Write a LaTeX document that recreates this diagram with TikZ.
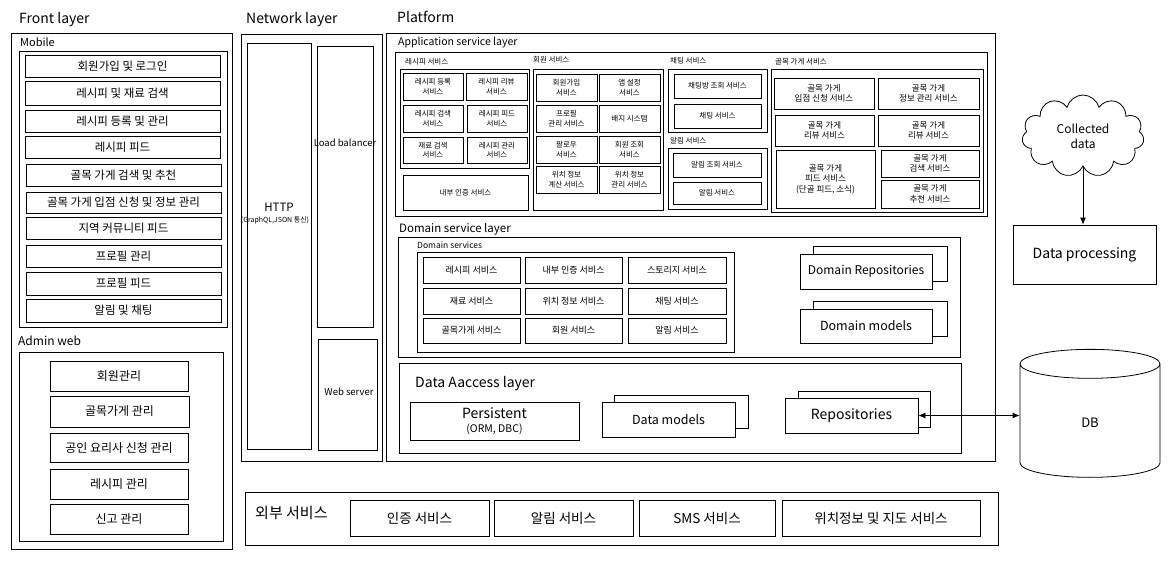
\documentclass[tikz,border=0pt]{standalone}
\usepackage{fontspec}
\setmainfont{Noto Sans CJK KR}
\usetikzlibrary{shapes.geometric,shapes.symbols,arrows.meta}

\tikzset{
    span/.style n args={4}{minimum width={#3-#1}, minimum height={#4-#2}, at={({(#1+#3)/2},{(#2+#4)/2})}},
    layer frame/.style={draw=black, line width=0.8pt},
    layer title/.style={anchor=base west, inner sep=0pt, font=\fontsize{14}{16}\selectfont},
    group title/.style={anchor=base west, inner sep=0pt, font=\fontsize{11}{13}\selectfont},
    tiny title/.style={anchor=base west, inner sep=0pt, font=\fontsize{7.5}{9}\selectfont},
    item/.style={draw=black, line width=0.8pt, inner sep=0pt, align=center, font=\fontsize{11.5}{14}\selectfont},
    small item/.style={item, font=\fontsize{7.5}{9.5}\selectfont},
    shop item/.style={item, font=\fontsize{8.5}{10.5}\selectfont},
    domain item/.style={item, font=\fontsize{9}{11}\selectfont},
    ext item/.style={item, font=\fontsize{13.5}{16}\selectfont},
    admin item/.style={item, font=\fontsize{12}{14}\selectfont},
    stack back/.style={draw=black, line width=0.8pt, fill=white},
    stack front/.style={item, fill=white, font=\fontsize{12.5}{15}\selectfont},
    plain text/.style={inner sep=0pt, align=center},
    flow/.style={-{Latex[length=7pt,width=6pt]}, line width=0.8pt},
}

\begin{document}
\begin{tikzpicture}[x=1pt, y=-1pt]
    \useasboundingbox (0,0) rectangle (1172,567);

    \begin{scope}
        \node[layer title] (front title) at (19,24) {Front layer};
        \draw[layer frame] (11,33) rectangle (232,549);
        \node[group title] (mobile title) at (20,47) {Mobile};
        \draw[layer frame] (19,51) rectangle (227,327);
        \node[item, span={25}{55}{220}{77}] (m1) {회원가입 및 로그인};
        \node[item, span={25}{81}{220}{105}] (m2) {레시피 및 재료 검색};
        \node[item, span={25}{110}{220}{132}] (m3) {레시피 등록 및 관리};
        \node[item, span={25}{136}{220}{158}] (m4) {레시피 피드};
        \node[item, span={26}{164}{221}{186}] (m5) {골목 가게 검색 및 추천};
        \node[item, span={26}{192}{221}{213}] (m6) {골목 가게 입점 신청 및 정보 관리};
        \node[item, span={26}{217}{221}{239}] (m7) {지역 커뮤니티 피드};
        \node[item, span={26}{245}{221}{267}] (m8) {프로필 관리};
        \node[item, span={26}{272}{221}{295}] (m9) {프로필 피드};
        \node[item, span={26}{299}{221}{322}] (m10) {알림 및 채팅};
        \node[group title, font=\fontsize{12}{14}\selectfont] (admin title) at (18,345) {Admin web};
        \draw[layer frame] (19,352) rectangle (223,541);
        \node[admin item, span={50}{361}{188}{391}] (a1) {회원관리};
        \node[admin item, span={50}{396}{189}{427}] (a2) {골목가게 관리};
        \node[admin item, span={50}{433}{188}{462}] (a3) {공인 요리사 신청 관리};
        \node[admin item, span={50}{469}{188}{499}] (a4) {레시피 관리};
        \node[admin item, span={50}{504}{188}{534}] (a5) {신고 관리};
    \end{scope}

    \begin{scope}
        \node[layer title] (network title) at (246,24) {Network layer};
        \draw[layer frame] (241,34) rectangle (382,461);
        \node[item, span={247}{43}{311}{449}] (http) {};
        \node[plain text, font=\fontsize{11.5}{13}\selectfont] (http text) at (279,207) {HTTP};
        \node[plain text, font=\fontsize{7}{8}\selectfont] (http note) at (275,220) {(GraphQL,JSON 통신)};
        \node[item, span={317}{46}{373}{327}] (lb) {};
        \node[plain text, font=\fontsize{9.5}{11}\selectfont] (lb text) at (345,143) {Load balancer};
        \node[item, span={318}{339}{377}{450}] (ws) {};
        \node[plain text, font=\fontsize{9.5}{11}\selectfont] (ws text) at (349,392) {Web server};
    \end{scope}

    \begin{scope}
        \node[layer title] (platform title) at (397,23) {Platform};
        \draw[layer frame] (386,33) rectangle (995,461);

        \node[group title, font=\fontsize{10.5}{12}\selectfont] (app title) at (398,46) {Application service layer};
        \draw[layer frame] (395,52) rectangle (987,216);

        \node[tiny title] (recipe title) at (405,65) {레시피 서비스};
        \draw[layer frame] (400,69) rectangle (529,168);
        \node[small item, span={403}{73}{463}{100}] (r1) {레시피 등록\\서비스};
        \node[small item, span={466}{73}{527}{100}] (r2) {레시피 리뷰\\서비스};
        \node[small item, span={403}{105}{463}{132}] (r3) {레시피 검색\\서비스};
        \node[small item, span={467}{105}{527}{132}] (r4) {레시피 피드\\서비스};
        \node[small item, span={403}{137}{463}{163}] (r5) {재료 검색\\서비스};
        \node[small item, span={467}{137}{527}{163}] (r6) {레시피 관리\\서비스};
        \node[small item, span={403}{175}{528}{210}] (auth) {내부 인증 서비스};

        \node[tiny title] (user title) at (533,63) {회원 서비스};
        \draw[layer frame] (533,69) rectangle (663,210);
        \node[small item, span={536}{74}{597}{101}] (u1) {회원가입\\서비스};
        \node[small item, span={599}{74}{660}{101}] (u2) {앱 설정\\서비스};
        \node[small item, span={536}{105}{597}{132}] (u3) {프로필\\관리 서비스};
        \node[small item, span={599}{105}{660}{132}] (u4) {배지 시스템};
        \node[small item, span={536}{136}{597}{163}] (u5) {팔로우\\서비스};
        \node[small item, span={599}{136}{660}{163}] (u6) {회원 조회\\서비스};
        \node[small item, span={536}{166}{597}{193}] (u7) {위치 정보\\계산 서비스};
        \node[small item, span={599}{166}{660}{193}] (u8) {위치 정보\\관리 서비스};

        \node[tiny title] (chat title) at (670,64) {채팅 서비스};
        \draw[layer frame] (668,69) rectangle (767,132);
        \node[small item, span={674}{74}{761}{98}] (c1) {채팅방 조회 서비스};
        \node[small item, span={674}{104}{761}{128}] (c2) {채팅 서비스};
        \node[tiny title] (alarm title) at (670,143) {알림 서비스};
        \draw[layer frame] (668,148) rectangle (767,209);
        \node[small item, span={673}{153}{761}{177}] (n1) {알림 조회 서비스};
        \node[small item, span={673}{182}{761}{204}] (n2) {알림 서비스};

        \node[tiny title] (shop title) at (775,65) {골목 가게 서비스};
        \draw[layer frame] (771,69) rectangle (983,212);
        \node[shop item, span={774}{78}{874}{109}] (g1) {골목 가게\\입점 신청 서비스};
        \node[shop item, span={878}{78}{979}{109}] (g2) {골목 가게\\정보 관리 서비스};
        \node[shop item, span={775}{115}{874}{146}] (g3) {골목 가게\\리뷰 서비스};
        \node[shop item, span={878}{115}{979}{146}] (g4) {골목 가게\\리뷰 서비스};
        \node[shop item, span={776}{150}{875}{208}] (g5) {골목 가게\\피드 서비스\\(단골 피드, 소식)};
        \node[shop item, span={881}{150}{979}{177}] (g6) {골목 가게\\검색 서비스};
        \node[shop item, span={881}{180}{979}{208}] (g7) {골목 가게\\추천 서비스};

        \node[group title, font=\fontsize{11.5}{13}\selectfont] (domain title) at (399,232) {Domain service layer};
        \draw[layer frame] (398,237) rectangle (960,357);
        \node[tiny title, font=\fontsize{8.5}{10}\selectfont] (dsvc title) at (417,248) {Domain services};
        \draw[layer frame] (417,252) rectangle (734,352);
        \node[domain item, span={423}{257}{520}{283}] (d1) {레시피 서비스};
        \node[domain item, span={525}{257}{622}{283}] (d2) {내부 인증 서비스};
        \node[domain item, span={628}{257}{726}{283}] (d3) {스토리지 서비스};
        \node[domain item, span={423}{288}{520}{314}] (d4) {재료 서비스};
        \node[domain item, span={525}{288}{622}{314}] (d5) {위치 정보 서비스};
        \node[domain item, span={628}{288}{726}{314}] (d6) {채팅 서비스};
        \node[domain item, span={423}{318}{520}{343}] (d7) {골목가게 서비스};
        \node[domain item, span={525}{318}{622}{343}] (d8) {회원 서비스};
        \node[domain item, span={628}{318}{726}{343}] (d9) {알림 서비스};
        \draw[stack back] (813,246) rectangle (947,281);
        \node[stack front, font=\fontsize{12}{14}\selectfont, span={800}{254}{932}{289}] (drepo) {Domain Repositories};
        \draw[stack back] (813,301) rectangle (947,336);
        \node[stack front, span={800}{309}{932}{343}] (dmodel) {Domain models};

        \draw[layer frame] (399,363) rectangle (961,453);
        \node[layer title] (data title) at (415,387) {Data Aaccess layer};
        \node[item, font=\fontsize{14}{16}\selectfont, span={410}{402}{579}{440}] (persist) {Persistent\\[-2pt]{\fontsize{10.5}{12}\selectfont (ORM, DBC)}};
        \draw[stack back] (614,395) rectangle (748,428);
        \node[stack front, span={602}{402}{735}{437}] (dmodels) {Data models};
        \draw[stack back] (798,391) rectangle (930,427);
        \node[stack front, font=\fontsize{14}{16}\selectfont, span={785}{398}{918}{433}] (repo) {Repositories};
    \end{scope}

    \begin{scope}
        \draw[layer frame] (245,492) rectangle (998,545);
        \node[layer title, font=\fontsize{15}{17}\selectfont] (ext title) at (255,518) {외부 서비스};
        \node[ext item, span={350}{500}{489}{536}] (e1) {인증 서비스};
        \node[ext item, span={494}{500}{633}{536}] (e2) {알림 서비스};
        \node[ext item, span={639}{500}{775}{536}] (e3) {SMS 서비스};
        \node[ext item, span={782}{500}{980}{536}] (e4) {위치정보 및 지도 서비스};
    \end{scope}

    \node[cloud, draw, line width=0.8pt, cloud puffs=11, aspect=1.5, inner sep=0pt, minimum width=122, minimum height=82, align=center, font=\fontsize{12}{15}\selectfont] (cloud) at (1083,136) {Collected\\data};
    \node[item, font=\fontsize{14}{16}\selectfont, span={1013}{225}{1156}{284}] (proc) {Data processing};
    \node[cylinder, draw, line width=0.8pt, shape border rotate=90, aspect=1.2, minimum width=140, minimum height=128, font=\fontsize{13}{15}\selectfont] (db) at (1090,423) {DB};

    \draw[flow] (cloud.south) -- (cloud.south |- proc.north);
    \draw[flow, {Latex[length=7pt,width=6pt]}-{Latex[length=7pt,width=6pt]}] (repo.east) -- (repo.east -| db.west);
\end{tikzpicture}
\end{document}
